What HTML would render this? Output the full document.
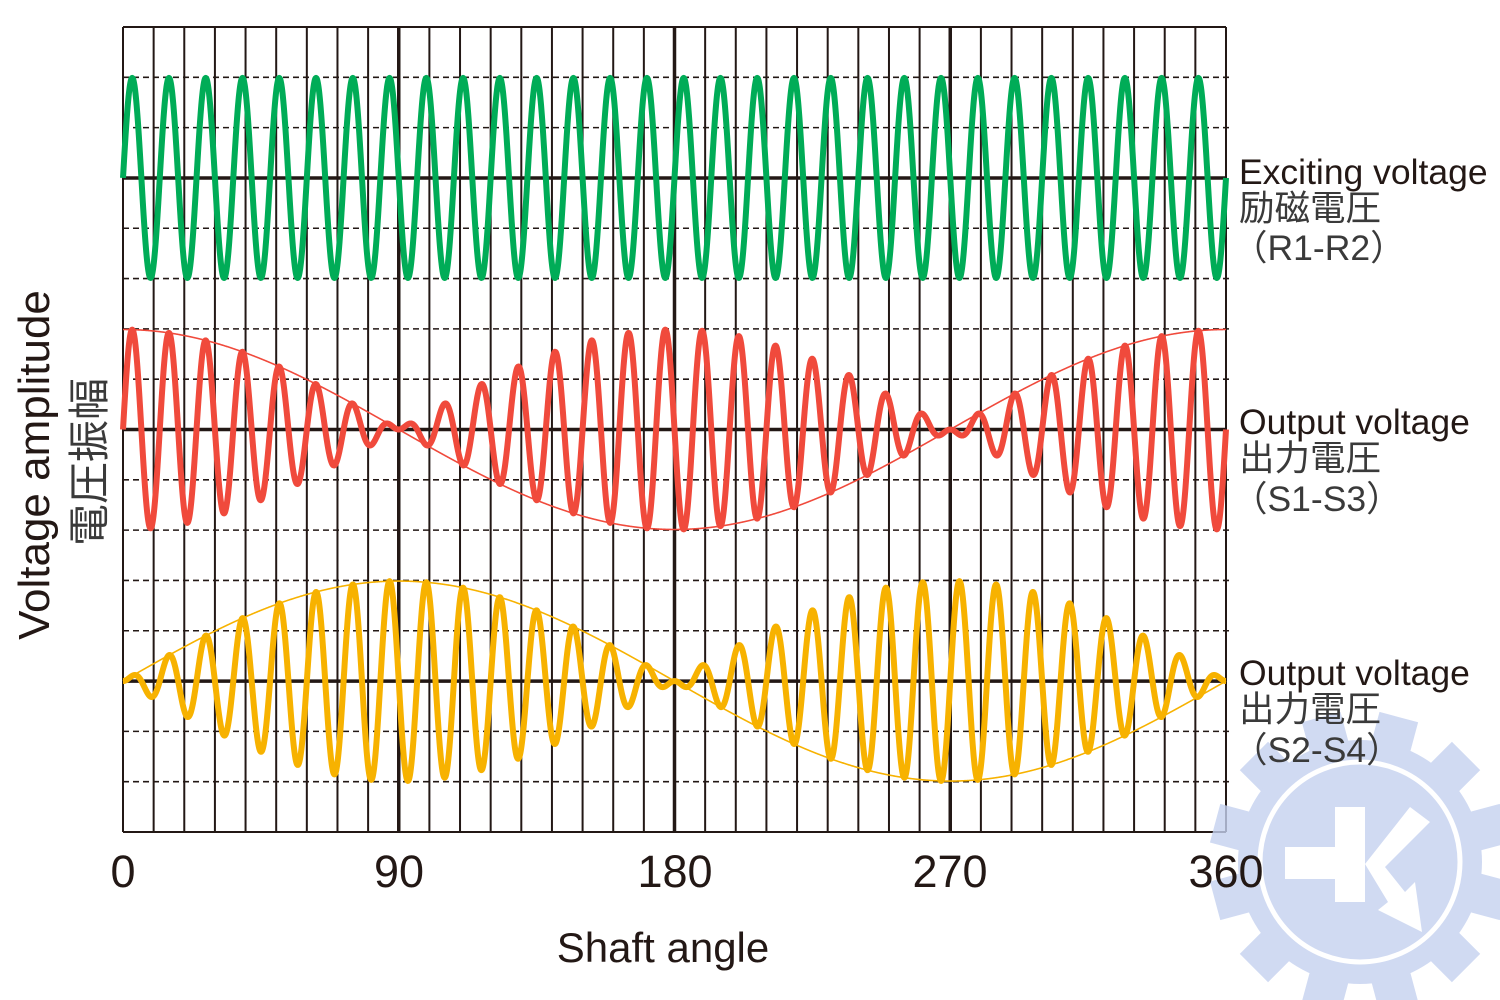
<!DOCTYPE html>
<html><head><meta charset="utf-8"><style>
html,body{margin:0;padding:0;background:#fff;}
svg{display:block;}
text{font-family:"Liberation Sans","Noto Sans CJK JP",sans-serif;fill:#231815;}
</style></head><body>
<svg id="s" width="1500" height="1000" xmlns="http://www.w3.org/2000/svg">
<g id="grid"></g>
<g id="waves"></g>
<g id="wm" opacity="0.8"></g>
<text x="123" y="887" font-size="45" text-anchor="middle">0</text>
<text x="399" y="887" font-size="45" text-anchor="middle">90</text>
<text x="675" y="887" font-size="45" text-anchor="middle">180</text>
<text x="950" y="887" font-size="45" text-anchor="middle">270</text>
<text x="1226" y="887" font-size="45" text-anchor="middle">360</text>
<text x="663" y="962" font-size="42" text-anchor="middle">Shaft angle</text>
<text transform="translate(49,465) rotate(-90)" font-size="44" text-anchor="middle">Voltage amplitude</text>
<text transform="translate(104,462) rotate(-90)" font-size="42" text-anchor="middle" style="fill:#3a3a3a">電圧振幅</text>
<g font-size="35.5">
<text x="1239" y="184">Exciting voltage</text>
<text x="1239" y="220" style="fill:#3a3a3a">励磁電圧</text>
<text x="1232" y="260" style="fill:#3a3a3a">（R1-R2）</text>
<text x="1239" y="434">Output voltage</text>
<text x="1239" y="470" style="fill:#3a3a3a">出力電圧</text>
<text x="1232" y="511" style="fill:#3a3a3a">（S1-S3）</text>
<text x="1239" y="685">Output voltage</text>
<text x="1239" y="721" style="fill:#3a3a3a">出力電圧</text>
<text x="1232" y="762" style="fill:#3a3a3a">（S2-S4）</text>
</g>
</svg>
<script>
var NS="http://www.w3.org/2000/svg";
function el(p,t,a){var e=document.createElementNS(NS,t);for(var k in a)e.setAttribute(k,a[k]);p.appendChild(e);return e;}
var g=document.getElementById("grid"),x0=123,x1=1226,y0=27,y1=832;
var dx=(x1-x0)/36,dy=(y1-y0)/16;
for(var j=0;j<=16;j++){var y=y0+j*dy;
 if(j==3||j==8||j==13) el(g,"line",{x1:x0,x2:x1,y1:y,y2:y,stroke:"#231815","stroke-width":3.5});
 else if(j==0||j==16) el(g,"line",{x1:x0,x2:x1,y1:y,y2:y,stroke:"#231815","stroke-width":2});
 else el(g,"line",{x1:x0,x2:x1+4,y1:y,y2:y,stroke:"#231815","stroke-width":1.6,"stroke-dasharray":"6,4"});}
for(var i=0;i<=36;i++){var x=x0+i*dx;
 el(g,"line",{x1:x,x2:x,y1:y0,y2:y1,stroke:"#231815","stroke-width":(i%9==0&&i>0&&i<36)?3.5:2});}
var w=document.getElementById("waves");
function path(f,yc,col,sw){var d="";for(var k=0;k<=3000;k++){var th=k/3000*2*Math.PI;var x=x0+k/3000*(x1-x0);var y=yc-100*f(th);d+=(k?"L":"M")+x.toFixed(2)+","+y.toFixed(2);}
 el(w,"path",{d:d,fill:"none",stroke:col,"stroke-width":sw,"stroke-linejoin":"round"});}
var yg=y0+3*dy,yr=y0+8*dy,yy=y0+13*dy;
path(function(t){return Math.sin(30*t)},yg,"#00ac57",6);
path(function(t){return Math.cos(t)},yr,"#f04a3c",1.6);
path(function(t){return Math.cos(t)*Math.sin(30*t)},yr,"#f04a3c",6);
path(function(t){return Math.sin(t)},yy,"#f7b200",1.6);
path(function(t){return Math.sin(t)*Math.sin(30*t)},yy,"#f7b200",6);
var wm=document.getElementById("wm"),cx=1360,cy=862,c="#c5d1f0";
for(var k=0;k<12;k++){var a=k*30+15;el(wm,"rect",{x:cx-20,y:cy-150,width:40,height:40,fill:c,transform:"rotate("+a+" "+cx+" "+cy+")"});}
el(wm,"circle",{cx:cx,cy:cy,r:122,fill:c});
el(wm,"circle",{cx:cx,cy:cy,r:100,fill:"none",stroke:"#fff","stroke-width":5});
el(wm,"rect",{x:cx-75,y:cy-15,width:80,height:32,fill:"#fff"});
el(wm,"rect",{x:cx-25,y:cy-55,width:30,height:95,fill:"#fff"});
el(wm,"path",{d:"M"+(cx+5)+","+(cy+2)+" L"+(cx+50)+","+(cy-55)+" L"+(cx+70)+","+(cy-40)+" L"+(cx+25)+","+(cy+5)+" L"+(cx+45)+","+(cy+30)+" L"+(cx+55)+","+(cy+20)+" L"+(cx+62)+","+(cy+70)+" L"+(cx+18)+","+(cy+48)+" L"+(cx+28)+","+(cy+40)+"Z",fill:"#fff"});
</script>
</body></html>
